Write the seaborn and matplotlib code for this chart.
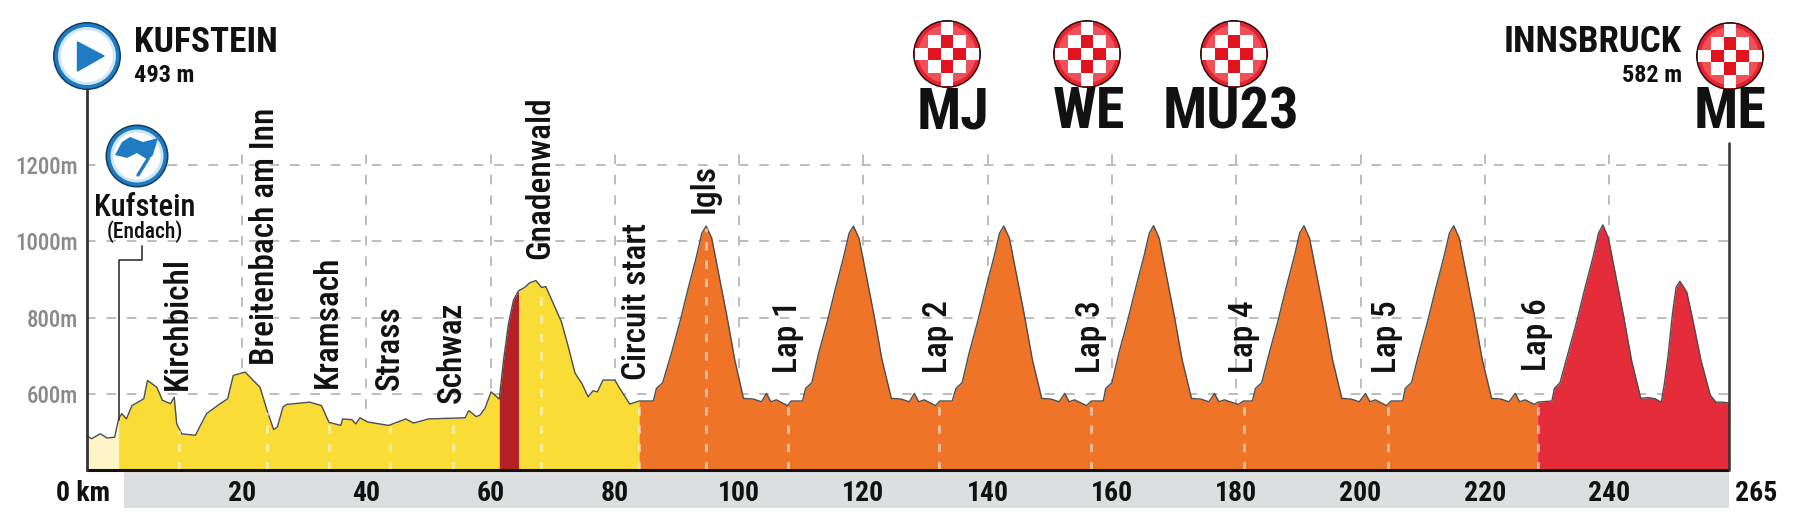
import numpy as np
import pandas as pd
import matplotlib
matplotlib.use("Agg")
import matplotlib.pyplot as plt
from matplotlib.patches import Circle, Polygon, Rectangle
from matplotlib.transforms import ScaledTranslation
import seaborn as sns

# elevation, km and metres, stretch by stretch
neutral_km = [-5.1, -4.2, -2.8, -1.7, -0.5, 0.15]
neutral_m = [491, 482, 495, 484, 486, 534]
valley_km = [0.65, 1.4, 2.3, 4.2, 4.8, 6.3, 7.2, 8.5, 9.1, 9.5, 10.3, 12.5, 14.3, 16.5, 17.7, 18.6, 20.5, 22.9, 24.2, 25.1,
             25.7, 26.6, 27.2, 30.9, 32.8, 34, 35.9, 36.2, 37.7, 38.3, 39, 40.2, 43.6, 46.4, 47.6, 50, 55.9, 56.5, 57.1, 57.7,
             58.3, 59.1, 60.1, 61.4]
valley_m = [548, 534, 569, 587, 635, 617, 583, 574, 591, 521, 495, 491, 548, 574, 587, 648, 657, 617, 548, 506,
            513, 565, 572, 578, 569, 525, 517, 534, 532, 521, 537, 526, 517, 534, 523, 534, 537, 556, 548, 540,
            544, 562, 605, 586]
gnadenwald_km = [62.1, 62.9, 63.7, 64.5, 65.5, 66.3, 67.3, 68.2, 68.9, 70.1, 71.4, 72.5, 73.6, 74.7, 75.7, 76.5, 77.2, 78.1,
                 80, 80.8, 82.4]
gnadenwald_m = [689, 785, 846, 870, 879, 891, 897, 879, 881, 837, 789, 724, 654, 627, 592, 608, 605, 636,
                636, 614, 573]
lap1_km = [83.9, 86.2, 86.7, 87.7, 89.1, 90.5, 91.8, 93.2, 94, 94.7, 95.6, 96.7, 98, 99.3, 100.7, 102.3, 103.6, 104.4, 105.1, 106, 107.8, 108.4]
lap1_m = [581, 581, 614, 629, 706, 790, 876, 964, 1021, 1040, 1008, 916, 807, 689, 588, 586, 579, 601, 579, 584, 569, 581]
lap2_km = [110.2, 110.7, 111.7, 112.8, 114.2, 115.5, 116.9, 117.7, 118.4, 119.3, 120.4, 121.7, 123, 124.5, 126.1, 127.4, 128.2, 128.9, 129.8, 131.6, 132.3]
lap2_m = [581, 614, 629, 706, 790, 876, 964, 1021, 1040, 1008, 916, 807, 689, 588, 586, 579, 601, 579, 584, 569, 581]
lap3_km = [134.3, 134.9, 135.9, 137, 138.4, 139.7, 141.1, 141.9, 142.6, 143.5, 144.6, 145.9, 147.2, 148.7, 150.2, 151.5, 152.4, 153.1, 154, 155.9, 156.7]
lap3_m = [581, 614, 629, 706, 790, 876, 964, 1021, 1040, 1008, 916, 807, 689, 588, 586, 579, 601, 579, 584, 569, 581]
lap4_km = [158.6, 159, 160, 161.1, 162.5, 163.8, 165.2, 166, 166.7, 167.6, 168.7, 170, 171.3, 172.8, 174.3, 175.6, 176.5, 177.2, 178.1, 180.3, 181.2]
lap4_m = [581, 614, 629, 706, 790, 876, 964, 1021, 1041, 1008, 916, 807, 689, 588, 586, 579, 601, 579, 584, 572, 581]
lap5_km = [182.6, 183.1, 184.1, 185.3, 186.7, 188, 189.4, 190.2, 190.9, 191.8, 192.9, 194.2, 195.5, 197, 198.5, 199.8, 200.8, 201.5, 202.4, 204.2, 204.9]
lap5_m = [581, 614, 629, 706, 790, 876, 964, 1021, 1041, 1008, 916, 807, 689, 588, 586, 579, 601, 579, 584, 569, 581]
lap6_km = [206.8, 207.2, 208.2, 209.4, 210.8, 212.1, 213.5, 214.3, 215, 215.9, 217, 218.3, 219.6, 221.1, 222.6, 223.9, 224.9, 225.6, 226.5, 228, 228.5]
lap6_m = [581, 614, 629, 706, 790, 876, 964, 1021, 1041, 1008, 916, 807, 689, 588, 586, 579, 601, 579, 584, 572, 578]
last_km = [230.8, 231.2, 232.1, 233.4, 234.8, 236.1, 237.5, 238.3, 239, 239.9, 241, 242.3, 243.6, 245.1, 246.3, 247.4, 248.4,
           248.9, 249.5, 250.2, 250.8, 251.4, 252.5, 253.5, 254.8, 256.3, 257.2, 258.2, 259.3]
last_m = [581, 614, 629, 706, 790, 876, 964, 1021, 1043, 1008, 916, 807, 689, 588, 590, 587, 578,
          626, 700, 810, 880, 895, 867, 792, 687, 596, 578, 578, 576]

km = neutral_km + valley_km + gnadenwald_km + lap1_km + lap2_km + lap3_km + lap4_km + lap5_km + lap6_km + last_km
elev = neutral_m + valley_m + gnadenwald_m + lap1_m + lap2_m + lap3_m + lap4_m + lap5_m + lap6_m + last_m

# stretches of the route and their colours
seg_start = [-5.1, 0.15, 61.4, 64.5, 83.9, 228.5]
seg_end = [0.15, 61.4, 64.5, 83.9, 228.5, 259.3]
seg_colors = ["#fdf4c8", "#f9dc35", "#b32026", "#f9dc35", "#ef7428", "#e52c3b"]

x_ticks = [-5.1, 20, 40, 60, 80, 100, 120, 140, 160, 180, 200, 220, 240, 259.3]
x_labels = ["0 km", "20", "40", "60", "80", "100", "120", "140", "160", "180", "200", "220", "240", "265"]
y_ticks = [600, 800, 1000, 1200]
y_labels = ["600m", "800m", "1000m", "1200m"]
white_marks = [9.8, 24, 34, 43.9, 53.9, 68.2, 83.9, 94.7, 107.9, 132.1, 156.7, 181.2, 204.4, 228.5]

# vertical place names: text, x px, bottom px
place_names = ["Kirchbichl", "Breitenbach am Inn", "Kramsach", "Strass", "Schwaz", "Gnadenwald", "Circuit start",
               "Igls", "Lap 1", "Lap 2", "Lap 3", "Lap 4", "Lap 5", "Lap 6"]
place_x = [178, 265, 328, 390, 452, 540, 637, 705, 788, 938, 1091, 1244, 1387, 1537]
place_y = [390, 365, 388, 390, 403, 259, 380, 213, 373, 373, 373, 373, 373, 371]

finish_names = ["MJ", "WE", "MU23", "ME"]
finish_text_x = [953, 1089, 1231, 1730]
finish_icon_x = [947, 1087, 1234, 1730]
finish_icon_y = [54, 54, 54, 56]

sns.set_theme(style="white")
plt.rcParams["font.family"] = ["Roboto Condensed", "DejaVu Sans"]

W, H = 1796, 514
fig = plt.figure(figsize=(W / 100, H / 100), dpi=100, facecolor="white")
ax = fig.add_axes([86 / W, (H - 470) / H, 1643 / W, 324 / H])
df = pd.DataFrame({"km": km, "elev": elev})

# grid first, profile hides it
ax.hlines(y_ticks, -5.1, 259.3, color="#b8b8b8", lw=1.3, linestyle=(0, (5.3, 6)), zorder=1)
ax.vlines(x_ticks[1:-1], 400, 1250, color="#b8b8b8", lw=1.3, linestyle=(0, (5.3, 6)), zorder=1)

for a, b, c in zip(seg_start, seg_end, seg_colors):
    part = df[(df.km >= a) & (df.km <= b)]
    ax.fill_between(part.km, 400, part.elev, color=c, lw=0, zorder=2)
sns.lineplot(data=df, x="km", y="elev", sort=False, estimator=None, color="#4d4d4d", lw=1.0, ax=ax, zorder=3)

ax.vlines(white_marks, 400, np.interp(white_marks, km, elev) - 6, color="white", lw=2.0,
          linestyle=(0, (3, 3.6)), alpha=0.55, zorder=3)

# grey distance strip under the axis
ax.axvspan(1, 259.3, ymin=-38 / 324, ymax=0, color="#dcdfe0", lw=0, clip_on=False, zorder=0)
ax.plot([-5.1, 259.3], [400, 400], color="#111111", lw=2.2, clip_on=False, solid_capstyle="butt", zorder=4)

ax.set_xlim(-5.1, 259.3)
ax.set_ylim(400, 1250)
ax.set_xlabel("")
ax.set_ylabel("")
ax.set_xticks(x_ticks)
ax.set_xticklabels(x_labels, fontsize=20, fontweight="bold", color="#111111")
ax.set_yticks(y_ticks)
ax.set_yticklabels(y_labels, fontsize=16.5, fontweight=500, color="#8a8a8a")
ax.tick_params(axis="x", length=0, pad=7.5)
ax.tick_params(axis="y", length=0, pad=6)
sns.despine(ax=ax, left=True, bottom=True, right=True, top=True)
ax.patch.set_alpha(0)

# end labels sit off their ticks
end_labels = ax.get_xticklabels()
end_labels[0].set_transform(end_labels[0].get_transform() + ScaledTranslation(-0.03, 0, fig.dpi_scale_trans))
end_labels[-1].set_transform(end_labels[-1].get_transform() + ScaledTranslation(0.27, 0, fig.dpi_scale_trans))

# overlay in pixels for poles, icons and labels
ov = fig.add_axes([0, 0, 1, 1])
ov.set_xlim(0, W)
ov.set_ylim(H, 0)
ov.axis("off")
ov.patch.set_alpha(0)

ov.plot([86.5, 86.5], [88, 470], color="#333333", lw=2)
ov.plot([1729, 1729], [143, 470], color="#333333", lw=1.8)
ov.plot([118.5, 118.5, 141.5, 141.5], [420, 260, 260, 246], color="#333333", lw=1.2)


def blue_icon(x, y, r):
    ov.add_patch(Circle((x, y), r, fc="#143a5c", ec="none", zorder=5))
    ov.add_patch(Circle((x, y), r - 1.5, fc="#1c7cc4", ec="none", zorder=5))
    ov.add_patch(Circle((x, y), r - 5, fc="#cfe6f6", ec="none", zorder=5))
    ov.add_patch(Circle((x, y), r - 8, fc="white", ec="none", zorder=5))


blue_icon(87, 56, 34)
ov.add_patch(Polygon([[77.5, 42], [104, 56], [77.5, 71]], fc="#1f7cc3", ec="#1f7cc3", lw=1, joinstyle="round", zorder=6))
blue_icon(137, 156, 31.5)
ov.add_patch(Polygon([[115, 155], [122, 142], [130, 137], [143, 142], [158, 138], [153, 155], [148, 160], [137, 153], [127, 158]],
                     fc="#1f7cc3", ec="none", zorder=6))
ov.plot([148, 138], [159, 175], color="#1f7cc3", lw=2.4, solid_capstyle="round", zorder=6)


def finish_icon(x, y, r=34):
    ov.add_patch(Circle((x, y), r, fc="#2b0d0d", ec="none", zorder=5))
    ov.add_patch(Circle((x, y), r - 1.5, fc="#e8232e", ec="none", zorder=5))
    ov.add_patch(Circle((x, y), r - 5, fc="#f0505a", ec="none", zorder=5))
    s = 12.7
    for i in range(-2, 3):
        for j in range(-2, 3):
            if abs(i) + abs(j) > 2:
                continue
            c = "white" if (i + j) % 2 == 0 else "#e2131f"
            ov.add_patch(Rectangle((x + (i - 0.5) * s, y + (j - 0.5) * s), s, s, fc=c, ec="none", zorder=6))


for x, y in zip(finish_icon_x, finish_icon_y):
    finish_icon(x, y)

for name, x in zip(finish_names, finish_text_x):
    ov.text(x, 113, name, ha="center", va="center", fontsize=42, fontweight="bold", color="#111111")

ov.text(134, 42, "KUFSTEIN", ha="left", va="center", fontsize=25.5, fontweight="bold", color="#111111")
ov.text(134, 75, "493 m", ha="left", va="center", fontsize=17.5, fontweight="bold", color="#111111")
ov.text(1682, 42, "INNSBRUCK", ha="right", va="center", fontsize=26.5, fontweight="bold", color="#111111")
ov.text(1682, 75, "582 m", ha="right", va="center", fontsize=17.5, fontweight="bold", color="#111111")
ov.text(145, 208, "Kufstein", ha="center", va="center", fontsize=22, fontweight=500, color="#111111")
ov.text(145, 232, "(Endach)", ha="center", va="center", fontsize=15.5, fontweight=500, color="#111111")

for name, x, y in zip(place_names, place_x, place_y):
    ov.text(x, y, name, rotation=90, ha="center", va="bottom", fontsize=24, fontweight=500, color="#111111")

fig.savefig("out.png", dpi=100)
